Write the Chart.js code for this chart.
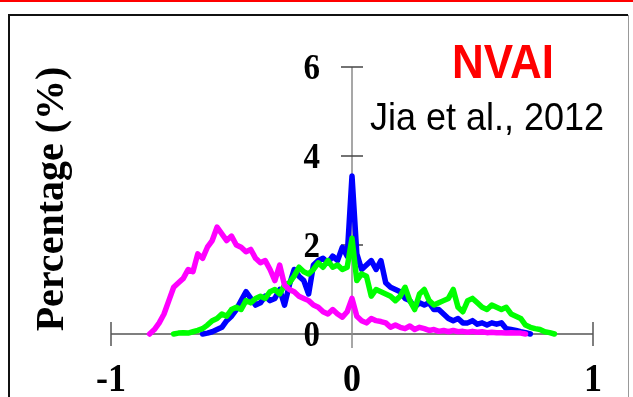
<!DOCTYPE html>
<html>
<head>
<meta charset="utf-8">
<script src="https://cdn.jsdelivr.net/npm/chart.js@4.4.0/dist/chart.umd.min.js"></script>
<style>
  html, body { margin: 0; padding: 0; background: #fff; }
</style>
</head>
<body>
<canvas id="nvaiChart" width="633" height="397"></canvas>
<script>
// bin centres of the NVAI histogram
var bins = [
  -0.86, -0.84, -0.82, -0.80, -0.78, -0.76, -0.74, -0.72, -0.70, -0.68,
  -0.66, -0.64, -0.62, -0.60, -0.58, -0.56, -0.54, -0.52, -0.50, -0.48,
  -0.46, -0.44, -0.42, -0.40, -0.38, -0.36, -0.34, -0.32, -0.30, -0.28,
  -0.26, -0.24, -0.22, -0.20, -0.18, -0.16, -0.14, -0.12, -0.10, -0.08,
  -0.06, -0.04, -0.02, 0.00, 0.02, 0.04, 0.06, 0.08, 0.10, 0.12,
  0.14, 0.16, 0.18, 0.20, 0.22, 0.24, 0.26, 0.28, 0.30, 0.32,
  0.34, 0.36, 0.38, 0.40, 0.42, 0.44, 0.46, 0.48, 0.50, 0.52,
  0.54, 0.56, 0.58, 0.60, 0.62, 0.64, 0.66, 0.68, 0.70, 0.72,
  0.74, 0.76, 0.78, 0.80, 0.82, 0.84, 0.86
];

var pinkValues = [
  null, 0, 0.1, 0.25, 0.45, 0.75, 1.05, 1.15, 1.25, 1.45,
  1.4, 1.8, 1.7, 1.95, 2.1, 2.4, 2.25, 2.1, 2.2, 2.0,
  1.95, 1.85, 1.9, 1.7, 1.6, 1.65, 1.45, 1.2, 1.55, 1.1,
  1.0, 0.95, 0.85, 0.8, 0.75, 0.65, 0.6, 0.5, 0.45, 0.55,
  0.45, 0.38, 0.5, 0.8, 0.4, 0.3, 0.25, 0.35, 0.3, 0.28,
  0.25, 0.15, 0.2, 0.15, 0.12, 0.18, 0.1, 0.15, 0.12, 0.08,
  0.1, 0.06, 0.08, 0.05, 0.08, 0.05, 0.06, 0.04, 0.06, 0.04,
  0.05, 0.03, 0.04, 0.03, 0.03, 0.02, 0.03, 0.02, 0.02, 0,
  null, null, null, null, null, null, null
];

var blueValues = [
  null, null, null, null, null, null, null, null, null, null,
  null, null, 0, 0.02, 0.05, 0.1, 0.15, 0.3, 0.4, 0.55,
  0.75, 0.95, 0.8, 0.65, 0.7, 0.85, 0.75, 0.8, 1.0, 0.65,
  1.1, 1.45, 1.3, 1.2, 0.9, 1.55, 1.65, 1.7, 1.6, 1.75,
  1.65, 1.95, 1.75, 3.55, 1.8, 1.45, 1.55, 1.65, 1.45, 1.65,
  1.15, 1.05, 1.0, 0.95, 0.8, 0.75, 0.6, 0.7, 0.65, 0.7,
  0.55, 0.55, 0.45, 0.35, 0.3, 0.35, 0.25, 0.25, 0.3, 0.22,
  0.25, 0.2, 0.25, 0.22, 0.25, 0.12, 0.1, 0.08, 0.05, 0.03,
  0, null, null, null, null, null, null
];

var greenValues = [
  null, null, null, null, null, null, 0, 0.02, 0.03, 0.02,
  0.05, 0.08, 0.12, 0.2, 0.3, 0.35, 0.45, 0.4, 0.55, 0.6,
  0.55, 0.75, 0.7, 0.8, 0.85, 0.8, 0.95, 1.0, 0.9, 1.1,
  1.15, 1.3, 1.5, 1.4, 1.35, 1.45, 1.6, 1.5, 1.65, 1.5,
  1.55, 1.45, 1.5, 2.15, 1.2, 1.35, 1.3, 0.85, 1.0, 0.95,
  0.9, 0.85, 0.75, 0.85, 1.05, 0.75, 0.55, 0.9, 1.0, 0.75,
  0.65, 0.7, 0.75, 0.8, 1.0, 0.6, 0.5, 0.75, 0.8, 0.7,
  0.6, 0.55, 0.65, 0.6, 0.55, 0.6, 0.45, 0.4, 0.35, 0.2,
  0.15, 0.12, 0.1, 0.05, 0.03, 0, null
];

var xTicks = [-1, 0, 1];
var yTicks = [0, 2, 4, 6];

function toPoints(values) {
  return bins.map(function (x, i) { return { x: x, y: values[i] }; });
}

// text with a slight vertical stretch, like the scanned slide
function stretchText(ctx, text, x, y, font, color, align, sx, sy, rotate) {
  ctx.save();
  ctx.translate(x, y);
  if (rotate) ctx.rotate(rotate);
  ctx.scale(sx, sy);
  ctx.font = font;
  ctx.fillStyle = color;
  ctx.textAlign = align;
  ctx.textBaseline = 'middle';
  ctx.fillText(text, 0, 0);
  ctx.restore();
}

var framePlugin = {
  id: 'frame',
  beforeDraw: function (chart) {
    var ctx = chart.ctx;
    ctx.save();
    ctx.fillStyle = '#ffffff';
    ctx.fillRect(0, 0, chart.width, chart.height);
    // red rule at the top of the slide
    ctx.fillStyle = '#ff0000';
    ctx.fillRect(0, 0, chart.width, 2);
    // panel border
    ctx.strokeStyle = '#111111';
    ctx.lineWidth = 2;
    ctx.beginPath();
    ctx.moveTo(9, chart.height + 5);
    ctx.lineTo(9, 15);
    ctx.lineTo(628, 15);
    ctx.stroke();
    ctx.strokeStyle = '#999999';
    ctx.lineWidth = 1;
    ctx.beginPath();
    ctx.moveTo(628.5, 15);
    ctx.lineTo(628.5, chart.height + 5);
    ctx.stroke();
    ctx.restore();
  },
  beforeDatasetsDraw: function (chart) {
    var ctx = chart.ctx;
    var xs = chart.scales.x, ys = chart.scales.y;
    var x0 = xs.getPixelForValue(0);
    var y0 = ys.getPixelForValue(0);
    ctx.save();
    // x axis
    ctx.strokeStyle = '#555555';
    ctx.lineWidth = 1.5;
    ctx.beginPath();
    ctx.moveTo(xs.getPixelForValue(xTicks[0]), y0);
    ctx.lineTo(xs.getPixelForValue(xTicks[xTicks.length - 1]), y0);
    ctx.stroke();
    xTicks.forEach(function (v) {
      if (v === 0) return;
      var px = xs.getPixelForValue(v);
      ctx.beginPath();
      ctx.moveTo(px, y0 - 12);
      ctx.lineTo(px, y0 + 12);
      ctx.stroke();
    });
    // y axis through x = 0
    ctx.strokeStyle = '#8a8a8a';
    ctx.beginPath();
    ctx.moveTo(x0, ys.getPixelForValue(yTicks[yTicks.length - 1]));
    ctx.lineTo(x0, y0 + 14);
    ctx.stroke();
    ctx.strokeStyle = '#444444';
    yTicks.forEach(function (v) {
      if (v === 0) return;
      var py = ys.getPixelForValue(v);
      ctx.beginPath();
      ctx.moveTo(x0 - 11, py);
      ctx.lineTo(x0 + 11, py);
      ctx.stroke();
    });
    ctx.restore();
  },
  afterDraw: function (chart) {
    var ctx = chart.ctx;
    var xs = chart.scales.x, ys = chart.scales.y;
    var x0 = xs.getPixelForValue(0);
    var serif = 'bold 36px "Liberation Serif", "Times New Roman", serif';
    xTicks.forEach(function (v) {
      stretchText(ctx, String(v), xs.getPixelForValue(v), ys.getPixelForValue(0) + 47,
        serif, '#000', 'center', 1, 1.1, 0);
    });
    yTicks.forEach(function (v) {
      stretchText(ctx, String(v), x0 - 32, ys.getPixelForValue(v) + 3,
        'bold 33px "Liberation Serif", "Times New Roman", serif', '#000', 'right', 1, 1.1, 0);
    });
    stretchText(ctx, 'Percentage (%)', 53, 199,
      'bold 40px "Liberation Serif", "Times New Roman", serif', '#000', 'center', 1, 1, -Math.PI / 2);
    stretchText(ctx, 'NVAI', 503, 65,
      'bold 44px "Liberation Sans", Arial, sans-serif', '#ff0000', 'center', 1, 1.1, 0);
    stretchText(ctx, 'Jia et al., 2012', 487, 119,
      '36px "Liberation Sans", Arial, sans-serif', '#000', 'center', 1, 1.1, 0);
  }
};

function lineSet(values, color) {
  return {
    data: toPoints(values),
    borderColor: color,
    backgroundColor: color,
    borderWidth: 5.5,
    pointRadius: 0,
    tension: 0,
    borderJoinStyle: 'round',
    borderCapStyle: 'round',
    clip: 10
  };
}

var context = document.getElementById('nvaiChart').getContext('2d');
var nvaiChart = new Chart(context, {
  type: 'line',
  data: {
    datasets: [
      lineSet(pinkValues, '#ff00ff'),
      lineSet(greenValues, '#00ff00'),
      lineSet(blueValues, '#0000ff')
    ]
  },
  options: {
    responsive: false,
    animation: false,
    layout: { padding: { left: 111, right: 40, top: 67, bottom: 63 } },
    plugins: { legend: { display: false }, tooltip: { enabled: false } },
    scales: {
      x: { type: 'linear', min: -1, max: 1, display: false },
      y: { min: 0, max: 6, display: false }
    }
  },
  plugins: [framePlugin]
});
</script>
</body>
</html>
